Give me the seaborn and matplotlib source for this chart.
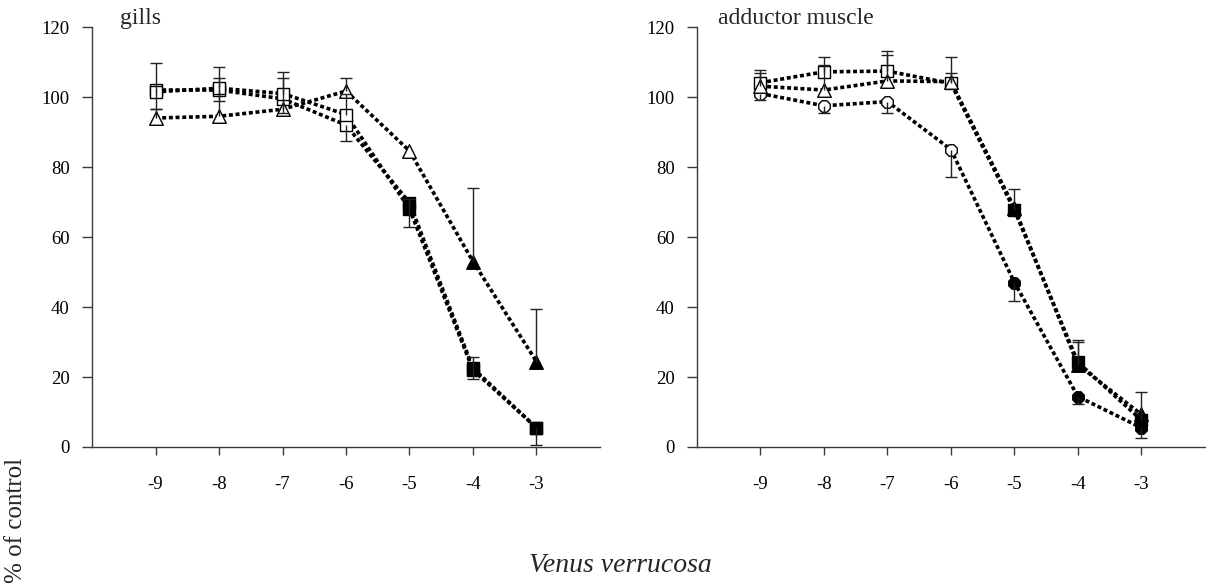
import numpy as np
import matplotlib
matplotlib.use("Agg")
import matplotlib.pyplot as plt
import seaborn as sns

# ---------------- data ----------------
log_conc = [-9, -8, -7, -6, -5, -4, -3]
x_ticks = [-9, -8, -7, -6, -5, -4, -3]
y_ticks = [0, 20, 40, 60, 80, 100, 120]

# gills
gills_sq = [101.5, 102.5, 101.0, 95.0, 68.0, 22.0, 5.5]
gills_sq_hi = [8.3, 6.0, 6.2, 6.0, 3.0, 3.8, 0.0]
gills_sq_sig = [False, False, False, False, True, True, True]

gills_sq2 = [102.0, 102.0, 99.5, 92.0, 69.8, 22.5, 5.5]
gills_sq2_lo = [5.5, 3.0, 4.0, 4.6, 6.8, 3.0, 5.0]
gills_sq2_sig = [False, False, False, False, True, True, True]

gills_tr = [94.0, 94.5, 96.5, 101.7, 84.6, 53.0, 24.4]
gills_tr_hi = [2.5, 11.0, 9.0, 3.8, 0.0, 21.0, 15.0]
gills_tr_sig = [False, False, False, False, False, True, True]

# adductor muscle
add_sq = [104.1, 107.2, 107.4, 103.9, 67.7, 24.2, 7.7]
add_sq_hi = [3.6, 4.3, 5.7, 7.6, 6.0, 6.4, 8.0]
add_sq_sig = [False, False, False, False, True, True, True]

add_tr = [103.1, 102.0, 104.6, 104.4, 68.3, 23.5, 9.3]
add_tr_hi = [3.7, 7.1, 7.4, 2.4, 0.0, 6.6, 0.0]
add_tr_sig = [False, False, False, False, True, True, True]

add_ci = [101.0, 97.5, 98.7, 85.0, 47.0, 14.4, 5.5]
add_ci_lo = [1.9, 2.0, 3.2, 7.8, 5.2, 2.1, 3.0]
add_ci_sig = [False, False, False, False, True, True, True]

panel_titles = ["gills", "adductor muscle"]
y_label = "% of control"
x_label = "Venus verrucosa"

# ---------------- style ----------------
sns.set_theme(style="ticks")
plt.rcParams["font.family"] = ["Liberation Serif", "DejaVu Serif"]

fig = plt.figure(figsize=(12.06, 5.85), dpi=100)
ax_l = fig.add_axes([0.0763, 0.2359, 0.4212, 0.7179])
ax_r = fig.add_axes([0.5779, 0.2359, 0.4212, 0.7179])

AX_COL = "#3a3a3a"
DOTS = (0, (1.1, 0.75))


def draw_series(ax, xs, ys, sig, marker, size, err=None, direction="up", z=0):
    xs = np.asarray(xs, float)
    ys = np.asarray(ys, float)
    sig = np.asarray(sig, bool)
    sns.lineplot(x=xs, y=ys, ax=ax, color="black", linestyle=DOTS,
                 linewidth=2.6, zorder=2 + z, legend=False)
    if (~sig).any():
        sns.scatterplot(x=xs[~sig], y=ys[~sig], ax=ax, marker=marker, s=size,
                        color="white", edgecolor="black", linewidth=1.0,
                        zorder=4 + z, legend=False)
    if sig.any():
        sns.scatterplot(x=xs[sig], y=ys[sig], ax=ax, marker=marker, s=size,
                        color="black", edgecolor="black", linewidth=1.0,
                        zorder=4 + z, legend=False)
    if err is not None:
        e = np.asarray(err, float)
        m = e > 0
        zeros = np.zeros(m.sum())
        yerr = [zeros, e[m]] if direction == "up" else [e[m], zeros]
        _, caps, _ = ax.errorbar(xs[m], ys[m], yerr=yerr, fmt="none",
                                 ecolor="#222222", elinewidth=1.0,
                                 capsize=4.5, capthick=1.0, zorder=5 + z)
        if len(caps) == 2:
            caps[0 if direction == "up" else 1].set_visible(False)


# gills panel
draw_series(ax_l, log_conc, gills_sq2, gills_sq2_sig, "s", 80, gills_sq2_lo, "down", z=0)
draw_series(ax_l, log_conc, gills_tr, gills_tr_sig, "^", 95, gills_tr_hi, "up", z=0.1)
draw_series(ax_l, log_conc, gills_sq, gills_sq_sig, "s", 80, gills_sq_hi, "up", z=0.2)

# adductor muscle panel
draw_series(ax_r, log_conc, add_ci, add_ci_sig, "8", 80, add_ci_lo, "down", z=0)
draw_series(ax_r, log_conc, add_sq, add_sq_sig, "s", 80, add_sq_hi, "up", z=0.1)
draw_series(ax_r, log_conc, add_tr, add_tr_sig, "^", 95, add_tr_hi, "up", z=0.2)

for ax in (ax_l, ax_r):
    ax.set_xlim(-10, -2)
    ax.set_ylim(0, 120)
    ax.set_xticks(x_ticks)
    ax.set_xticklabels([str(t) for t in x_ticks])
    ax.set_yticks(y_ticks)
    ax.set_yticklabels([str(t) for t in y_ticks])
    ax.set_xlabel("")
    ax.set_ylabel("")
    for s in ("top", "right"):
        ax.spines[s].set_visible(False)
    for s in ("left", "bottom"):
        ax.spines[s].set_color(AX_COL)
        ax.spines[s].set_linewidth(1.0)
    ax.tick_params(axis="x", direction="out", length=6, width=1.0,
                   color=AX_COL, pad=15, labelsize=13.5, labelcolor="black")
    ax.tick_params(axis="y", direction="out", length=7, width=1.0,
                   color=AX_COL, pad=9, labelsize=13.5, labelcolor="black")
    ax.patch.set_visible(False)

fig.text(0.0995, 0.959, panel_titles[0], fontsize=17, ha="left", va="baseline")
fig.text(0.5954, 0.959, panel_titles[1], fontsize=17, ha="left", va="baseline")
fig.text(0.0135, 0.111, y_label, fontsize=18, rotation=90, ha="center", va="center")
fig.text(0.514, 0.0325, x_label, fontsize=20, style="italic", ha="center", va="center")

fig.savefig("out.png", dpi=100, facecolor="white")
